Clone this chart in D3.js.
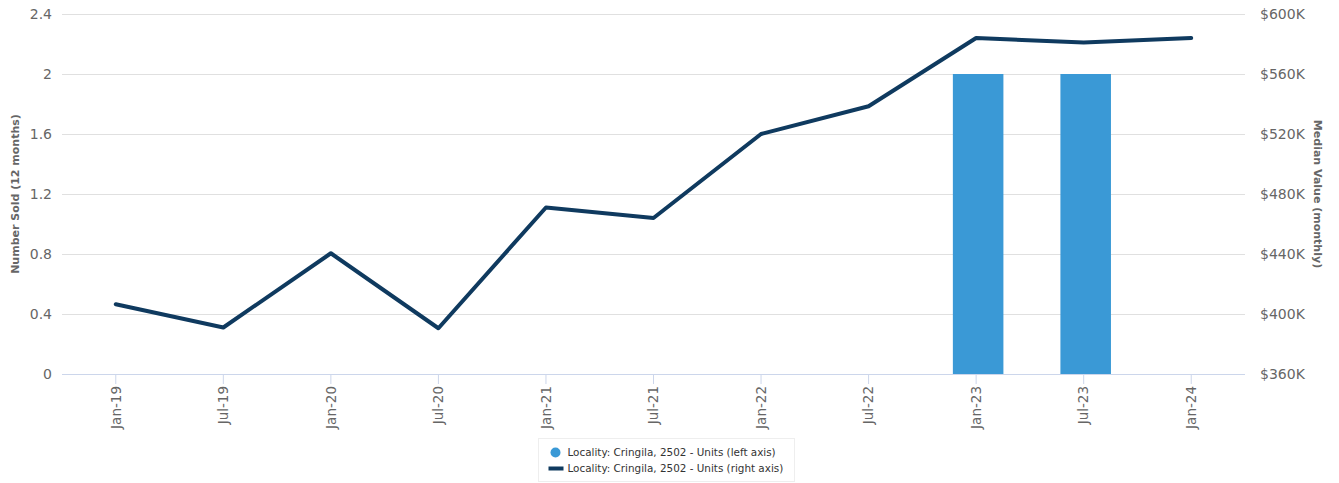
<!DOCTYPE html>
<html>
<head>
<meta charset="utf-8">
<script src="https://cdn.jsdelivr.net/npm/d3@7"></script>
<style>
  body { margin: 0; background: #fff; }
  svg, svg text { font-family: "DejaVu Sans", sans-serif; }
</style>
</head>
<body>
<div id="chart"></div>
<script>
// Data
const categories = ["Jan-19", "Jul-19", "Jan-20", "Jul-20", "Jan-21", "Jul-21", "Jan-22", "Jul-22", "Jan-23", "Jul-23", "Jan-24"];
const unitsSold = [0, 0, 0, 0, 0, 0, 0, 0, 2, 2, 0];
const medianValue = [406500, 391000, 440500, 390500, 471000, 464000, 520000, 538500, 584000, 581000, 584000];
const leftTicks = [0, 0.4, 0.8, 1.2, 1.6, 2, 2.4];
const rightTicks = [360000, 400000, 440000, 480000, 520000, 560000, 600000];

const width = 1339;
const height = 483;
const margin = { top: 14, right: 94, bottom: 109, left: 62 };

const svg = d3.select("#chart")
  .append("svg")
  .attr("width", width)
  .attr("height", height);

// Scales
const x = d3.scaleBand()
  .domain(categories)
  .range([margin.left, width - margin.right]);

const yLeft = d3.scaleLinear()
  .domain([0, 2.4])
  .range([height - margin.bottom, margin.top]);

const yRight = d3.scaleLinear()
  .domain([360000, 600000])
  .range([height - margin.bottom, margin.top]);

// Gridlines
svg.append("g")
  .selectAll("line")
  .data(leftTicks)
  .enter()
  .append("line")
  .attr("x1", margin.left)
  .attr("x2", width - margin.right)
  .attr("y1", (d) => yLeft(d) + 0.5)
  .attr("y2", (d) => yLeft(d) + 0.5)
  .attr("stroke", (d) => d === 0 ? "#ccd6eb" : "#e0e0e0")
  .attr("stroke-width", 1);

// Left axis
const leftAxis = svg.append("g")
  .attr("transform", `translate(${margin.left},0)`)
  .call(d3.axisLeft(yLeft).tickValues(leftTicks).tickSize(0).tickPadding(10)
    .tickFormat((d) => d3.format("")(+d.toFixed(1))));
leftAxis.attr("font-family", null);
leftAxis.select(".domain").remove();
leftAxis.selectAll("text")
  .style("font-size", "14px")
  .attr("fill", "#666666");

// Right axis
const rightAxis = svg.append("g")
  .attr("transform", `translate(${width - margin.right},0)`)
  .call(d3.axisRight(yRight).tickValues(rightTicks).tickSize(0).tickPadding(15)
    .tickFormat((d) => "$" + d / 1000 + "K"));
rightAxis.attr("font-family", null);
rightAxis.select(".domain").remove();
rightAxis.selectAll("text")
  .style("font-size", "14px")
  .attr("fill", "#666666");

// X axis
const xAxis = svg.append("g")
  .attr("transform", `translate(0,${height - margin.bottom})`)
  .call(d3.axisBottom(x).tickSize(10).tickSizeOuter(0));
xAxis.attr("font-family", null);
xAxis.select(".domain").remove();
xAxis.selectAll(".tick line")
  .attr("stroke", "#ccd6eb");
xAxis.selectAll("text")
  .style("font-size", "13.5px")
  .attr("fill", "#666666")
  .attr("transform", "rotate(-90)")
  .attr("text-anchor", "end")
  .attr("x", -12)
  .attr("y", 0)
  .attr("dy", "0.35em");

// Axis titles
svg.append("text")
  .attr("transform", `translate(19,${yLeft(1.2)}) rotate(-90)`)
  .attr("text-anchor", "middle")
  .style("font-size", "11px")
  .style("font-weight", "bold")
  .attr("fill", "#666666")
  .text("Number Sold (12 months)");

svg.append("text")
  .attr("transform", `translate(1314,${yLeft(1.2)}) rotate(90)`)
  .attr("text-anchor", "middle")
  .style("font-size", "11px")
  .style("font-weight", "bold")
  .attr("fill", "#666666")
  .text("Median Value (monthly)");

// Bars
const barWidth = x.bandwidth() * 0.47;
svg.append("g")
  .selectAll("rect")
  .data(unitsSold.map((v, i) => ({ cat: categories[i], value: v })))
  .enter()
  .append("rect")
  .attr("x", (d) => x(d.cat) + (x.bandwidth() - barWidth) / 2 + 2)
  .attr("y", (d) => yLeft(d.value))
  .attr("width", barWidth)
  .attr("height", (d) => yLeft(0) - yLeft(d.value))
  .attr("fill", "#3a99d6");

// Line
const line = d3.line()
  .x((d, i) => x(categories[i]) + x.bandwidth() / 2)
  .y((d) => yRight(d));

svg.append("path")
  .datum(medianValue)
  .attr("d", line)
  .attr("fill", "none")
  .attr("stroke", "#0f3a5f")
  .attr("stroke-width", 4)
  .attr("stroke-linejoin", "round")
  .attr("stroke-linecap", "round");

// Legend
const legend = svg.append("g")
  .attr("transform", "translate(538.5,438.5)");

legend.append("rect")
  .attr("width", 256)
  .attr("height", 43)
  .attr("fill", "#fff")
  .attr("stroke", "#eeeeee");

legend.append("circle")
  .attr("cx", 17)
  .attr("cy", 14)
  .attr("r", 5)
  .attr("fill", "#3a99d6");

legend.append("rect")
  .attr("x", 10)
  .attr("y", 28)
  .attr("width", 15)
  .attr("height", 4)
  .attr("fill", "#0f3a5f");

legend.selectAll("text")
  .data(["Locality: Cringila, 2502 - Units (left axis)", "Locality: Cringila, 2502 - Units (right axis)"])
  .enter()
  .append("text")
  .attr("x", 29)
  .attr("y", (d, i) => 14 + i * 16)
  .attr("dy", "0.35em")
  .text((d) => d)
  .style("font-size", "10.4px")
  .attr("fill", "#333333");
</script>
</body>
</html>
